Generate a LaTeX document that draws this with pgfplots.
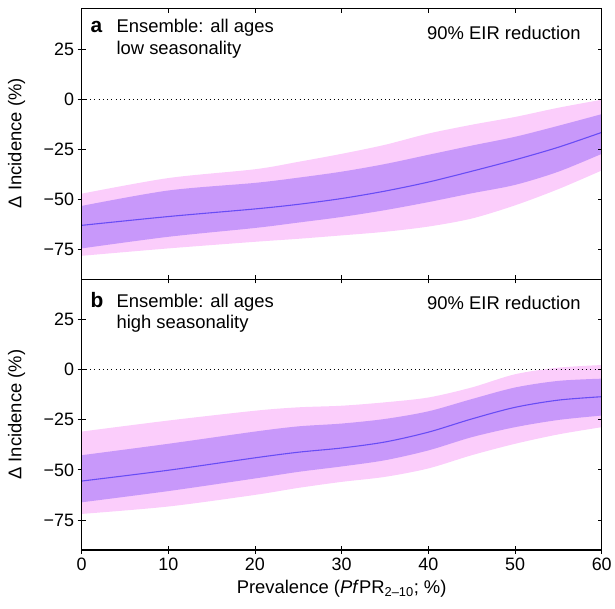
\documentclass[border=0pt]{standalone}
\usepackage{fontspec}
\setmainfont{Liberation Sans}
\usepackage{pgfplots}
\usepackage{pgfplotstable}
\pgfplotsset{compat=1.18}
\usepgfplotslibrary{fillbetween}

\definecolor{outerband}{RGB}{251,205,251}
\definecolor{innerband}{RGB}{200,152,250}
\definecolor{medline}{RGB}{104,76,245}

\pgfplotstableread{
x lo90 lo50 med hi50 hi90
0 -78.2 -74.5 -63.0 -53.3 -47.2
10 -74.5 -68.7 -58.6 -45.6 -39.4
20 -71.2 -64.3 -54.8 -41.8 -35.0
25 -69.7 -61.6 -52.5 -39.2 -31.3
30 -68.0 -58.8 -49.6 -36.2 -27.3
35 -66.2 -55.4 -45.9 -32.4 -22.8
40 -63.6 -51.4 -41.4 -27.8 -17.2
45 -59.6 -47.0 -36.0 -23.2 -12.8
50 -53.0 -42.8 -30.3 -18.8 -8.9
55 -44.9 -36.2 -24.0 -13.3 -4.3
60 -35.6 -27.3 -16.6 -7.5 -0.3
}\lowseason

\pgfplotstableread{
x lo90 lo50 med hi50 hi90
0 -72.0 -66.2 -55.6 -42.7 -30.9
10 -68.3 -60.6 -50.2 -37.0 -25.4
20 -62.5 -54.3 -44.0 -30.9 -20.5
25 -59.0 -51.0 -41.2 -28.3 -18.8
30 -56.0 -48.3 -39.1 -26.9 -18.0
35 -53.5 -45.2 -36.1 -24.6 -16.3
40 -49.3 -40.3 -31.2 -20.8 -13.9
45 -42.7 -33.7 -24.6 -14.7 -8.9
50 -37.0 -28.7 -18.8 -8.9 -2.3
55 -32.3 -25.1 -15.2 -5.6 1.0
60 -28.7 -22.9 -13.5 -4.5 2.3
}\highseason

\tikzset{txt/.style={font=\fontsize{18.5}{18.5}\selectfont, inner sep=0pt}}

\pgfplotsset{
  geom/.style={
    scale only axis, width=523pt, height=272pt,
    anchor=south west,
    xmin=0, xmax=60, ymin=-90, ymax=45,
    xtick={0,10,20,30,40,50,60},
    ytick={-75,-50,-25,0,25},
    axis line style={line width=1.1pt},
    tick style={black, line width=0.8pt},
  },
  panel/.style={
    geom,
    yticklabels={−75,−50,−25,0,25},
    xtick pos=left, ytick pos=left,
    tick align=center, major tick length=8pt,
    ticklabel style={font=\fontsize{18}{18}\selectfont},
    /pgf/number format/assume math mode=true,
  },
  mirror/.style={
    geom,
    xtick pos=right, ytick pos=right,
    tick align=inside, major tick length=4pt,
    xticklabels={}, yticklabels={},
  },
}

\newcommand{\bands}[1]{%
  \addplot[draw=none, smooth, name path=hiN] table[x=x, y=hi90] {#1};
  \addplot[draw=none, smooth, name path=loN] table[x=x, y=lo90] {#1};
  \addplot[draw=none, smooth, name path=hiF] table[x=x, y=hi50] {#1};
  \addplot[draw=none, smooth, name path=loF] table[x=x, y=lo50] {#1};
  \addplot[outerband, draw=none] fill between[of=hiN and loN];
  \addplot[innerband, draw=none] fill between[of=hiF and loF];
  \addplot[medline, line width=1.1pt, smooth] table[x=x, y=med] {#1};
  \addplot[black, line width=0.8pt, dash pattern=on 0.9pt off 3.4pt] coordinates {(0,0) (60,0)};
}

\begin{document}
\begin{tikzpicture}

% Panel a
\begin{axis}[panel, at={(82pt,331pt)}, xticklabels={}]
  \bands{\lowseason}
  \node[anchor=base west, inner sep=0pt, font=\bfseries\fontsize{21}{21}\selectfont] at ([xshift=9pt,yshift=-24pt]rel axis cs:0,1) {a};
  \node[txt, anchor=base west] at ([xshift=35pt,yshift=-24pt]rel axis cs:0,1) {Ensemble: all ages};
  \node[txt, anchor=base west] at ([xshift=35pt,yshift=-46pt]rel axis cs:0,1) {low seasonality};
  \node[txt, anchor=base east] at ([xshift=-21pt,yshift=-31pt]rel axis cs:1,1) {90\% EIR reduction};
\end{axis}
\begin{axis}[mirror, at={(82pt,331pt)}]
  \addplot[black, line width=0.8pt, dash pattern=on 0.9pt off 3.4pt] coordinates {(0,0) (60,0)};
\end{axis}

% Panel b
\begin{axis}[panel, at={(82pt,59pt)}]
  \bands{\highseason}
  \node[anchor=base west, inner sep=0pt, font=\bfseries\fontsize{21}{21}\selectfont] at ([xshift=9pt,yshift=-28pt]rel axis cs:0,1) {b};
  \node[txt, anchor=base west] at ([xshift=35pt,yshift=-28pt]rel axis cs:0,1) {Ensemble: all ages};
  \node[txt, anchor=base west] at ([xshift=35pt,yshift=-49pt]rel axis cs:0,1) {high seasonality};
  \node[txt, anchor=base east] at ([xshift=-21pt,yshift=-30pt]rel axis cs:1,1) {90\% EIR reduction};
\end{axis}
\begin{axis}[mirror, at={(82pt,59pt)}]
  \addplot[black, line width=0.8pt, dash pattern=on 0.9pt off 3.4pt] coordinates {(0,0) (60,0)};
\end{axis}

% axis titles
\node[txt, rotate=90, anchor=base] at (21.5pt,468pt) {Δ Incidence (\%)};
\node[txt, rotate=90, anchor=base] at (21.5pt,195pt) {Δ Incidence (\%)};
\node[txt, anchor=base] at (343.5pt,15pt) {Prevalence (\textit{Pf}PR\textsubscript{2–10}; \%)};
\path (0,0) rectangle (615pt,612pt);
\end{tikzpicture}
\end{document}
